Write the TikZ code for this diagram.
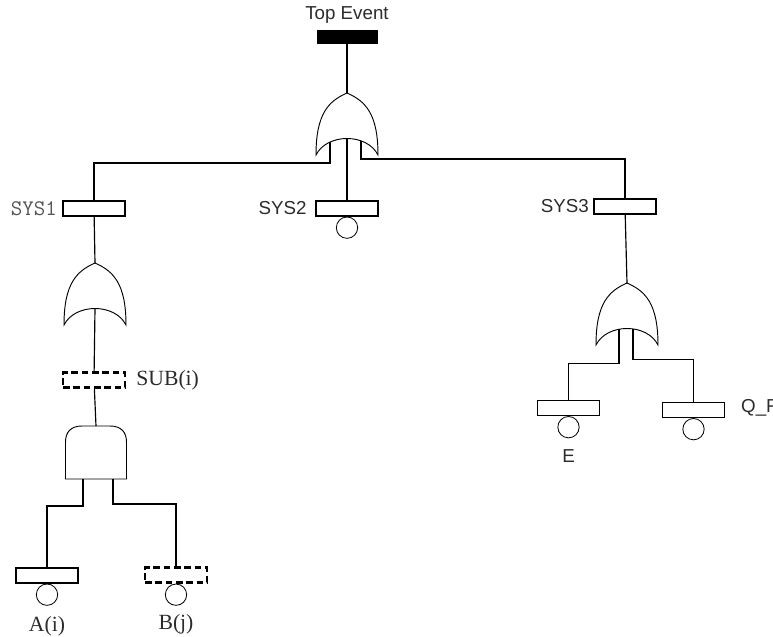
\documentclass[tikz,border=0pt]{standalone}
\usepackage{fontspec}
\usepackage{xcolor}
\usepackage{tikz}
\usetikzlibrary{positioning,calc}
\newfontfamily\ftsans{Liberation Sans}
\newfontfamily\ftserif{Liberation Serif}
\definecolor{FtDark}{HTML}{2B2B2B}
\definecolor{FtGray}{HTML}{555555}
\tikzset{
  evbox/.style={draw=black,line width=1pt,minimum width=18.6mm,minimum height=4.5mm,inner sep=0pt,fill=white},
  xferbox/.style={evbox,line width=1.9pt,dash pattern=on 2mm off 1.1mm},
  topbox/.style={fill=black,minimum width=18.3mm,minimum height=4.2mm,inner sep=0pt},
  basiccirc/.style={draw=black,circle,line width=0.7pt,minimum size=6.4mm,inner sep=0pt},
  wire/.style={line width=1pt,draw=black},
  gateline/.style={line width=0.8pt,draw=black,fill=white},
  sanslbl/.style={font=\ftsans\fontsize{16}{17}\selectfont,text=FtDark,inner sep=0pt},
  monolbl/.style={font=\ttfamily\fontsize{19}{20}\selectfont,text=FtGray,inner sep=0pt},
  seriflbl/.style={font=\ftserif\fontsize{18.5}{19}\selectfont,text=FtDark,inner sep=0pt},
  orgate/.pic={
    \draw[gateline] (-31,62) .. controls (-31,20) and (-18,8) .. (0,0)
      .. controls (18,8) and (31,20) .. (31,62)
      .. controls (20,40) and (-20,40) .. cycle;
    \coordinate (-out) at (0,0);
    \coordinate (-in) at (0,45.5);
    \coordinate (-a) at (-17,49);
    \coordinate (-b) at (14,48);
    \coordinate (-c) at (-8,46.4);
    \coordinate (-d) at (6,46.2);
  },
  andgate/.pic={
    \draw[gateline] (-30.5,53) -- (-30.5,16) .. controls (-30.5,6) and (-25,0) .. (-14,0)
      -- (14,0) .. controls (25,0) and (30.5,6) .. (30.5,16) -- (30.5,53) -- cycle;
    \coordinate (-out) at (0,0);
    \coordinate (-a) at (-13,53);
    \coordinate (-b) at (17,53);
  }
}

\begin{document}
\begin{tikzpicture}[x=0.03cm,y=-0.03cm,node distance=0pt]
\useasboundingbox (0,0) rectangle (773,637);
% top event and top gate
\node[topbox] (top) at (347,37) {};
\node[sanslbl,above=1.7mm of top] (toplbl) {Top Event};
\pic (g0) at (347,93) {orgate};
\draw[wire] (top) -- (g0-out);
% systems
\node[evbox] (sys1) at (94,208.5) {};
\node[monolbl,left=1.6mm of sys1] (sys1lbl) {SYS1};
\node[evbox] (sys2) at (347,208.5) {};
\node[sanslbl,left=2.6mm of sys2] (sys2lbl) {SYS2};
\node[basiccirc,below=of sys2] (sys2c) {};
\node[evbox] (sys3) at (625,206.5) {};
\node[sanslbl,left=1.3mm of sys3] (sys3lbl) {SYS3};
\draw[wire] (g0-a) -- ++(0,21) -| (sys1);
\draw[wire] (g0-in) -- (sys2);
\draw[wire] (g0-b) -- ++(0,18) -| (sys3);
% SYS1 branch
\pic (g1) at (95,263) {orgate};
\draw[wire] (sys1) -- (g1-out);
\node[xferbox] (sub) at (94,380) {};
\node[seriflbl,right=3mm of sub] (sublbl) {SUB(i)};
\draw[wire] (g1-in) -- (sub);
\pic (g2) at (96,426) {andgate};
\draw[wire] (sub) -- (g2-out);
\node[evbox] (evA) at (47,575.5) {};
\node[basiccirc,below=of evA] (evAc) {};
\node[seriflbl,below=3.2mm of evAc] (evAlbl) {A(i)};
\node[xferbox] (evB) at (176,575) {};
\node[basiccirc,below=of evB] (evBc) {};
\node[seriflbl,below=2.6mm of evBc] (evBlbl) {B(j)};
\draw[wire] (g2-a) -- ++(0,27) -| (evA);
\draw[wire] (g2-b) -- ++(0,25) -| (evB);
% SYS3 branch
\pic (g3) at (627,283) {orgate};
\draw[wire] (sys3) -- (g3-out);
\node[evbox] (evE) at (568.5,408) {};
\node[basiccirc,below=of evE] (evEc) {};
\node[sanslbl,below=3.4mm of evEc] (evElbl) {E};
\node[evbox] (evQ) at (693.5,410) {};
\node[basiccirc,below=of evQ] (evQc) {};
\node[sanslbl,anchor=west] (evQlbl) at (741,408) {Q\_F};
\draw[wire] (g3-c) -- ++(0,34) -| (evE);
\draw[wire] (g3-d) -- ++(0,30) -| (evQ);
\end{tikzpicture}
\end{document}
